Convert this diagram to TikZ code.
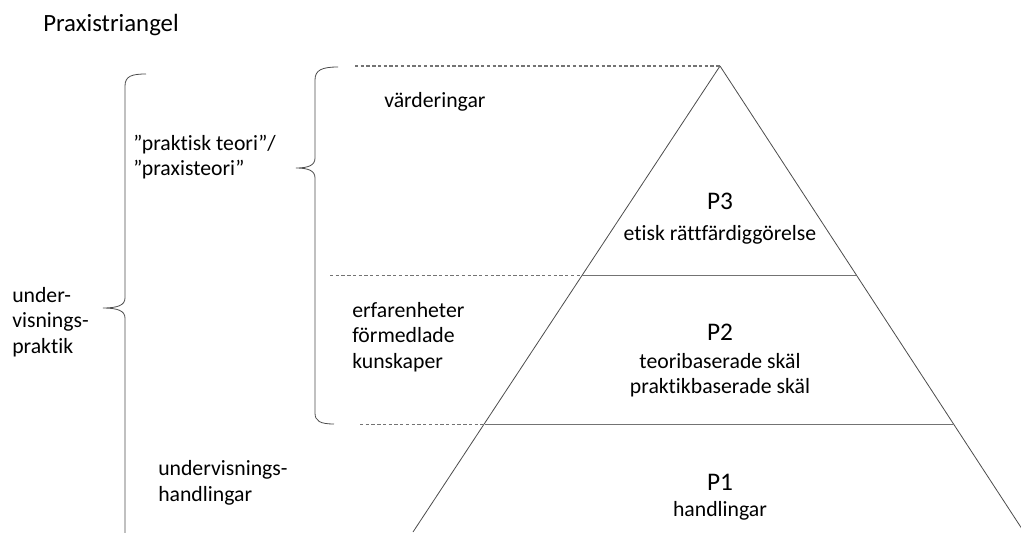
\documentclass[tikz,border=0pt]{standalone}
\usepackage{fontspec}
\setmainfont{Carlito}[Ligatures=NoCommon]
\begin{document}
\begin{tikzpicture}[x=0.75pt,y=-0.75pt]
	\tikzset{txt/.style = {anchor=west, align=left, inner sep=0pt, font=\fontsize{16.3}{19.2}\selectfont},
		level/.style = {align=center, inner sep=0pt, font=\fontsize{16.3}{19.2}\selectfont},
		plabel/.style = {inner sep=0pt, font=\fontsize{19}{22}\selectfont},
		side/.style = {draw=black!70, line width=0.6pt},
		cut/.style = {draw=black!55, line width=1pt},
		guide/.style = {draw=black!55, dash pattern=on 2.5pt off 1.8pt, line width=0.8pt},
		brace/.style = {draw=black!70, line width=0.6pt}}

	\useasboundingbox (0,0) rectangle (1021,532);

	% triangle
	\coordinate (apex) at (720,66);
	\coordinate (l3) at (583,275.5);
	\coordinate (r3) at (856,275.5);
	\coordinate (l2) at (485,424.5);
	\coordinate (r2) at (953,424.5);
	\coordinate (l1) at (413,532);
	\coordinate (r1) at (1024,532);
	\draw[side] (apex) -- (l1);
	\draw[side] (apex) -- (r1);
	\draw[cut] (l3) -- (r3);
	\draw[cut] (l2) -- (r2);

	% dashed guides
	\coordinate (g3) at (355,66);
	\coordinate (g2) at (330,275.5);
	\coordinate (g1) at (360,424.5);
	\draw[guide] (g3) -- (apex);
	\draw[guide] (g2) -- (l3);
	\draw[guide] (g1) -- (l2);

	% braces
	\draw[brace] (146,74) .. controls (132,74) and (125,76) .. (125,86) -- (125,298)
		.. controls (125,305) and (118,308) .. (103,308)
		.. controls (118,308) and (125,311) .. (125,318) -- (125,540);
	\draw[brace] (338,67) .. controls (322,67) and (315,70) .. (315,80) -- (315,158)
		.. controls (315,165) and (309,168) .. (296,168)
		.. controls (309,168) and (315,171) .. (315,178) -- (315,413)
		.. controls (315,421) and (320,424) .. (334,424);

	\node[txt, font=\fontsize{18.6}{22}\selectfont] (title) at (43,25) {Praxistriangel};
	\node[txt] (theory) at (133,157) {”praktisk teori”/\\”praxisteori”};
	\node[txt] (values) at (384,102) {värderingar};
	\node[txt] (practice) at (12,322) {under-\\visnings-\\praktik};
	\node[txt] (experience) at (352,337) {erfarenheter\\förmedlade\\kunskaper};
	\node[txt] (acts) at (158,483) {undervisnings-\\handlingar};

	\node[plabel] (p3) at (720,201) {P3};
	\node[level] (p3text) at (720,235) {etisk rättfärdiggörelse};
	\node[plabel] (p2) at (720,332) {P2};
	\node[level] (p2text) at (720,375) {teoribaserade skäl\\praktikbaserade skäl};
	\node[plabel] (p1) at (720,482) {P1};
	\node[level] (p1text) at (720,511) {handlingar};
\end{tikzpicture}
\end{document}
